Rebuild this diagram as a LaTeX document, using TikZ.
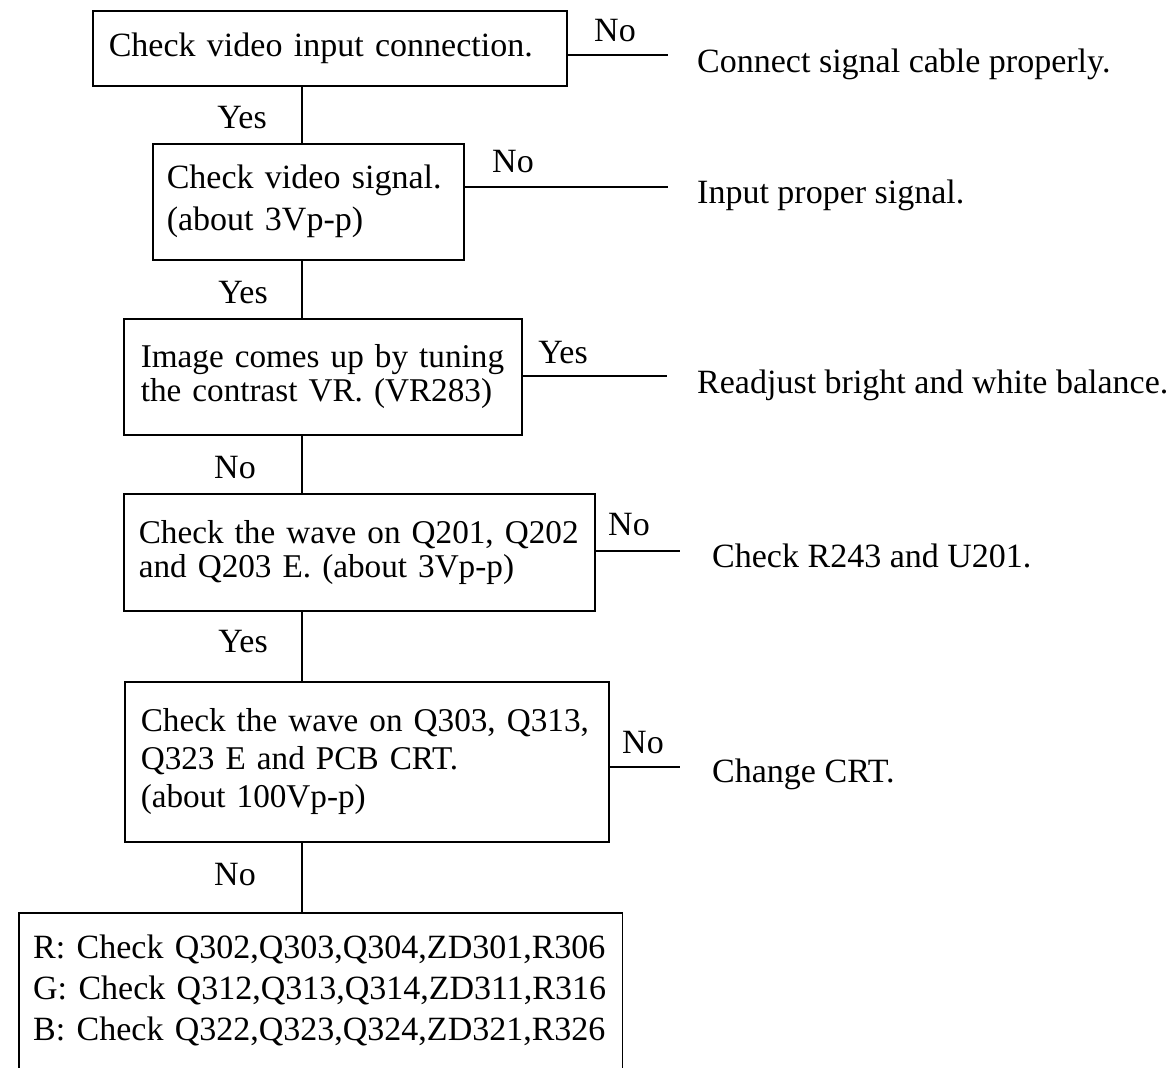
\documentclass[tikz,border=0pt]{standalone}
\usepackage{fontspec}
\setmainfont{Liberation Serif}
\begin{document}
\begin{tikzpicture}[x=1pt,y=-1pt,
  box/.style={draw, line width=1.6pt, anchor=north west, align=left, inner ysep=0pt},
  fs/.style={font=\fontsize{34}{#1}\selectfont},
  fsn/.style={font=\fontsize{33.2}{#1}\selectfont},
  lbl/.style={anchor=base, inner sep=0pt, font=\fontsize{34}{41}\selectfont},
  res/.style={anchor=base west, inner sep=0pt, font=\fontsize{34}{41}\selectfont},
  conn/.style={line width=1.6pt}]
\useasboundingbox (0,0) rectangle (1176,1068);

% boxes
\node[box, fs=41, minimum height=75pt, text width=442pt, inner xsep=16pt] (b1) at (92,10) {\mbox{Check video input connection.}};
\node[box, fs=42, minimum height=116pt, text width=283pt, inner xsep=14pt] (b2) at (152,143) {\mbox{Check video signal.}\\\mbox{(about 3Vp-p)}};
\node[box, fsn=34, minimum height=116pt, text width=364pt, inner xsep=17pt] (b3) at (123,318) {\mbox{Image comes up by tuning}\\\mbox{the contrast VR. (VR283)}};
\node[box, fsn=34, minimum height=117pt, text width=441pt, inner xsep=15pt] (b4) at (123,493) {\mbox{Check the wave on Q201, Q202}\\\mbox{and Q203 E. (about 3Vp-p)}};
\node[box, fsn=38, minimum height=160pt, text width=452pt, inner xsep=16pt] (b5) at (124,681) {\mbox{Check the wave on Q303, Q313,}\\\mbox{Q323 E and PCB CRT.}\\\mbox{(about 100Vp-p)}};
\node[anchor=north west, align=left, inner ysep=0pt, fs=41, minimum height=155pt, text width=575pt, inner xsep=14pt] (b6) at (19,913) {\mbox{R: Check Q302,Q303,Q304,ZD301,R306}\\\mbox{G: Check Q312,Q313,Q314,ZD311,R316}\\\mbox{B: Check Q322,Q323,Q324,ZD321,R326}};
\draw[conn] (b6.south west) -- (b6.north west) -- (b6.north east) -- (b6.south east);

% spine
\coordinate (sp) at (302,0);
\draw[conn] (b1.south -| sp) -- (b2.north -| sp);
\draw[conn] (b2.south -| sp) -- (b3.north -| sp);
\draw[conn] (b3.south -| sp) -- (b4.north -| sp);
\draw[conn] (b4.south -| sp) -- (b5.north -| sp);
\draw[conn] (b5.south -| sp) -- (b6.north -| sp);

% side branches
\coordinate (e1) at (668,55);
\coordinate (e2) at (668,187);
\coordinate (e3) at (667,376);
\coordinate (e4) at (680,551);
\coordinate (e5) at (680,767);
\draw[conn] (e1 -| b1.east) -- (e1);
\draw[conn] (e2 -| b2.east) -- (e2);
\draw[conn] (e3 -| b3.east) -- (e3);
\draw[conn] (e4 -| b4.east) -- (e4);
\draw[conn] (e5 -| b5.east) -- (e5);

% labels on the spine
\node[lbl] (y1) at (242,128) {Yes};
\node[lbl] (y2) at (243,303) {Yes};
\node[lbl] (n3) at (235,478) {No};
\node[lbl] (y4) at (243,652) {Yes};
\node[lbl] (n5) at (235,885) {No};

% labels on branches
\node[lbl] (n1) at (615,41) {No};
\node[lbl] (n2) at (513,172) {No};
\node[lbl] (ys3) at (563,363) {Yes};
\node[lbl] (n4) at (629,535) {No};
\node[lbl] (n6) at (643,753) {No};

% results
\node[res] (r1) at (697,72) {Connect signal cable properly.};
\node[res] (r2) at (697,203) {Input proper signal.};
\node[res] (r3) at (697,393) {Readjust bright and white balance.};
\node[res] (r4) at (712,567) {Check R243 and U201.};
\node[res] (r5) at (712,782) {Change CRT.};
\end{tikzpicture}
\end{document}
